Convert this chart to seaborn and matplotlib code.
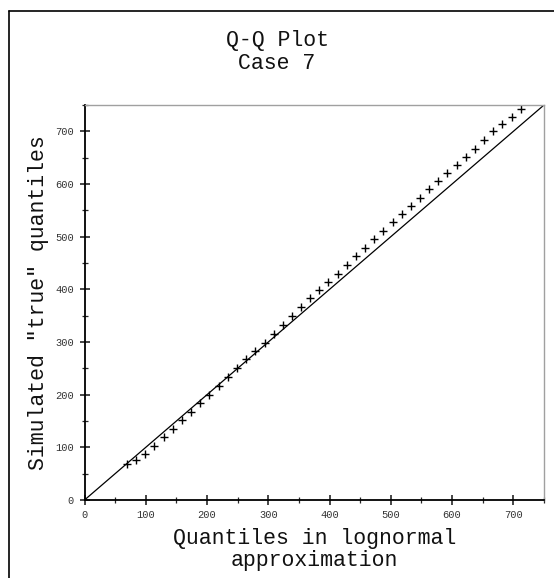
import numpy as np
import pandas as pd
import matplotlib
matplotlib.use("Agg")
import matplotlib.pyplot as plt
from matplotlib.lines import Line2D
from matplotlib.ticker import MultipleLocator
import seaborn as sns

# quantiles
approx_q = [69, 84, 99, 114, 129, 144, 159, 174, 189, 204, 219, 234, 249, 264,
            279, 294, 309, 324, 339, 354, 368, 383, 398, 413, 428, 443, 458, 473,
            488, 503, 518, 533, 547, 562, 577, 592, 608, 622, 637, 652, 667, 682,
            697, 712]
true_q = [68, 76, 88, 102, 119, 134, 152, 168, 184, 200, 217, 233, 250, 267,
          283, 299, 316, 333, 350, 366, 383, 399, 414, 430, 447, 463, 479, 495,
          510, 527, 543, 558, 574, 590, 605, 621, 636, 652, 667, 684, 700, 713,
          728, 743]
axis_max = 750

df = pd.DataFrame({"approx": approx_q, "true": true_q})

sns.set_style("ticks")
plt.rcParams['font.family'] = ['Liberation Mono', 'DejaVu Sans Mono']

fig = plt.figure(figsize=(5.54, 5.78), dpi=100)
ax = fig.add_axes([84.5 / 554, 1 - 500 / 578, (544 - 84.5) / 554, (500 - 105) / 578])

ax.plot([0, axis_max], [0, axis_max], color="black", lw=0.9)
sns.scatterplot(data=df, x="approx", y="true", marker="+", color="black",
                s=32, linewidth=1.0, ax=ax, legend=False)

ax.set_xlim(0, axis_max)
ax.set_ylim(0, axis_max)
ax.xaxis.set_major_locator(MultipleLocator(100))
ax.xaxis.set_minor_locator(MultipleLocator(50))
ax.yaxis.set_major_locator(MultipleLocator(100))
ax.yaxis.set_minor_locator(MultipleLocator(50))
ax.tick_params(which="major", direction="inout", length=7, width=1.2,
               labelsize=7.5, labelcolor="#333333", pad=4)
ax.tick_params(which="minor", direction="inout", length=5, width=0.9)

for side in ["left", "bottom"]:
    ax.spines[side].set_color("black")
    ax.spines[side].set_linewidth(1.3)
for side in ["top", "right"]:
    ax.spines[side].set_color("#a0a0a0")
    ax.spines[side].set_linewidth(1.0)

ax.set_xlabel("Quantiles in lognormal\napproximation", fontsize=15.5,
              linespacing=1.05, color="#111111")
ax.set_ylabel('Simulated "true" quantiles', fontsize=15.5, color="#111111")
ax.xaxis.set_label_coords(0.5, -0.072)
ax.yaxis.set_label_coords(-0.078, 0.5)

fig.text(0.5, 1 - 52 / 578, "Q-Q Plot\nCase 7", ha="center", va="center",
         fontsize=15.5, linespacing=1.08, color="#111111")

# outer frame (cut off at the right and bottom like the original)
fig.add_artist(Line2D([9 / 554, 9 / 554], [0, 1 - 11 / 578], color="black", lw=1.2))
fig.add_artist(Line2D([9 / 554, 1], [1 - 11 / 578, 1 - 11 / 578], color="black", lw=1.2))

fig.savefig("out.png", dpi=100)
